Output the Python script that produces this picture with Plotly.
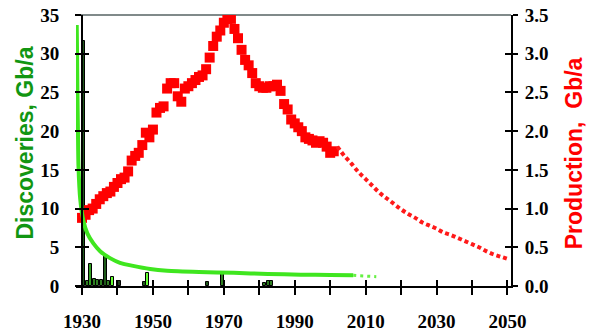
import plotly.graph_objects as go

# ---- data -------------------------------------------------------------
# annual discoveries (Gb/a), one bar per year
discovery_years = [1930, 1931, 1932, 1933, 1934, 1935, 1936, 1937, 1938, 1940,
                   1947, 1948, 1965, 1969, 1981, 1982, 1983]
discovery_values = [31.7, 0.7, 2.8, 0.9, 0.8, 0.8, 4.0, 0.6, 1.1, 0.7,
                    0.5, 1.7, 0.5, 1.6, 0.4, 0.6, 0.6]
discovery_colors = ["#1f5a1a", "#2f7f22", "#33a024", "#2f7f22", "#2f7f22", "#2f7f22",
                    "#1f5a1a", "#2f7f22", "#66ff33", "#1f3a1a", "#1f5a1a", "#66ff33",
                    "#1f5a1a", "#2f7f22", "#2f7f22", "#2f7f22", "#2f7f22"]

# smoothed discovery trend (Gb/a)
trend_years = [1928.5, 1928.6, 1928.7, 1928.85, 1929.0, 1929.5, 1930.4, 1931.5, 1933.2,
               1935.1, 1937.9, 1940.7, 1944.4, 1949.2, 1954.0, 1963.0, 1972.8,
               1982.4, 1991.7, 2000.0, 2006.5]
trend_values = [33.7, 30.0, 25.0, 20.0, 15.5, 11.2, 8.4, 6.8, 5.5,
                4.5, 3.6, 3.0, 2.6, 2.2, 1.98, 1.82, 1.70,
                1.56, 1.46, 1.42, 1.38]
trend_tail_years = [2006.5, 2009.0, 2013.0]
trend_tail_values = [1.38, 1.30, 1.20]

# annual production (Gb/a)
prod_years = list(range(1930, 2002))
prod_values = [0.88, 0.92, 0.98, 1.00, 1.06, 1.12, 1.16, 1.20, 1.22, 1.28,
               1.33, 1.38, 1.40, 1.48, 1.62, 1.68, 1.72, 1.82, 1.98, 1.92,
               2.02, 2.24, 2.30, 2.32, 2.55, 2.62, 2.62, 2.45, 2.38, 2.55,
               2.58, 2.62, 2.66, 2.70, 2.72, 2.80, 2.95, 3.10, 3.22, 3.30,
               3.40, 3.45, 3.45, 3.32, 3.20, 3.05, 2.92, 2.85, 2.75, 2.62,
               2.58, 2.56, 2.56, 2.58, 2.58, 2.60, 2.52, 2.35, 2.28, 2.15,
               2.10, 2.05, 2.00, 1.92, 1.90, 1.88, 1.85, 1.87, 1.85, 1.80,
               1.72, 1.74]

# projected production (Gb/a)
proj_years = list(range(2002, 2051, 2))
proj_values = [1.80, 1.68, 1.58, 1.47, 1.38, 1.29, 1.20, 1.13, 1.06, 0.99,
               0.93, 0.88, 0.82, 0.78, 0.74, 0.69, 0.66, 0.62, 0.58, 0.54,
               0.50, 0.45, 0.41, 0.38, 0.35]

x_tick_vals = list(range(1930, 2051, 10))
x_tick_text = [str(v) if (v - 1930) % 20 == 0 else "" for v in x_tick_vals]
left_tick_vals = list(range(0, 36, 5))
right_tick_vals = [v / 2 for v in range(0, 8)]

# ---- styling ----------------------------------------------------------
X_RANGE = [1928.3, 2051.0]
LEFT_AXIS_POS = (1930 - X_RANGE[0]) / (X_RANGE[1] - X_RANGE[0])
TICK_FONT = dict(family="Liberation Serif", size=19, color="black", weight="bold")
GREEN = "#3fe61f"

fig = go.Figure()

# discovery bars, centred in their year
fig.add_trace(go.Bar(
    x=[y + 0.5 for y in discovery_years], y=discovery_values,
    width=0.85, marker=dict(color=discovery_colors, line=dict(color="black", width=1)),
    xaxis="x", yaxis="y", showlegend=False,
))

# production history and projection on the right axis
fig.add_trace(go.Scatter(
    x=prod_years, y=prod_values, mode="markers",
    marker=dict(symbol="square", size=10, color="#ff0000", line=dict(width=0)),
    xaxis="x", yaxis="y2", showlegend=False,
))
fig.add_trace(go.Scatter(
    x=proj_years, y=proj_values, mode="lines", line_shape="spline",
    line=dict(color="#ff1a1a", width=4, dash="4px,3px"),
    xaxis="x", yaxis="y2", showlegend=False,
))

# discovery trend on top
fig.add_trace(go.Scatter(
    x=trend_years, y=trend_values, mode="lines", line_shape="spline",
    line=dict(color=GREEN, width=4, smoothing=0.6),
    xaxis="x", yaxis="y3", showlegend=False,
))
fig.add_trace(go.Scatter(
    x=trend_tail_years, y=trend_tail_values, mode="lines",
    line=dict(color="#66f044", width=3, dash="3px,4px"),
    xaxis="x", yaxis="y3", showlegend=False,
))

# empty helper so the inward tick axes get drawn
fig.add_trace(go.Scatter(x=[None], y=[None], xaxis="x3", yaxis="y4", showlegend=False))

axis_common = dict(showgrid=False, zeroline=False, automargin=False)
inner_ticks = dict(ticks="inside", ticklen=6, tickwidth=1.5, tickcolor="black",
                   showticklabels=False, showline=False, visible=True)

fig.update_layout(
    width=591, height=332,
    margin=dict(l=76, r=80, t=15, b=46),
    paper_bgcolor="white", plot_bgcolor="white",
    bargap=0,
    xaxis=dict(
        range=X_RANGE, tickvals=x_tick_vals, ticktext=x_tick_text,
        ticks="outside", ticklen=7, tickwidth=1.5, tickcolor="black",
        showline=True, linecolor="black", linewidth=2,
        tickfont=TICK_FONT, ticklabelstandoff=10, anchor="y", **axis_common,
    ),
    xaxis3=dict(range=X_RANGE, overlaying="x", tickvals=x_tick_vals, side="bottom",
                anchor="y", **inner_ticks, **axis_common),
    yaxis=dict(
        range=[0, 35], tickvals=left_tick_vals,
        ticks="outside", ticklen=6, tickwidth=1.5, tickcolor="black",
        showline=True, linecolor="black", linewidth=2,
        tickfont=TICK_FONT, ticklabelstandoff=12,
        anchor="free", position=LEFT_AXIS_POS, **axis_common,
    ),
    yaxis3=dict(range=[0, 35], overlaying="y", tickvals=left_tick_vals, side="left",
                anchor="free", position=LEFT_AXIS_POS, **inner_ticks, **axis_common),
    yaxis2=dict(
        range=[0, 3.5], overlaying="y", side="right", anchor="x",
        tickvals=right_tick_vals, tickformat=".1f",
        ticks="outside", ticklen=5, tickwidth=1.5, tickcolor="black",
        showline=True, linecolor="black", linewidth=2,
        tickfont=TICK_FONT, ticklabelstandoff=3, **axis_common,
    ),
    yaxis4=dict(range=[0, 3.5], overlaying="y", side="right", anchor="x3",
                tickvals=right_tick_vals, **inner_ticks, **axis_common),
    shapes=[dict(type="line", xref="paper", yref="paper", x0=0, x1=1, y0=1, y1=1,
                 line=dict(color="#808a8a", width=2), layer="below")],
    annotations=[
        dict(text="Discoveries, Gb/a", xref="paper", yref="paper",
             x=-0.117, y=0.526, xanchor="center", yanchor="middle",
             textangle=-90, showarrow=False,
             font=dict(family="Liberation Sans", size=23, color="#129612", weight="bold")),
        dict(text="Production,  Gb/a", xref="paper", yref="paper",
             x=1.145, y=0.49, xanchor="center", yanchor="middle",
             textangle=-90, showarrow=False,
             font=dict(family="Liberation Sans", size=23, color="#ff0000", weight="bold")),
    ],
)

fig.write_html("out.html")
